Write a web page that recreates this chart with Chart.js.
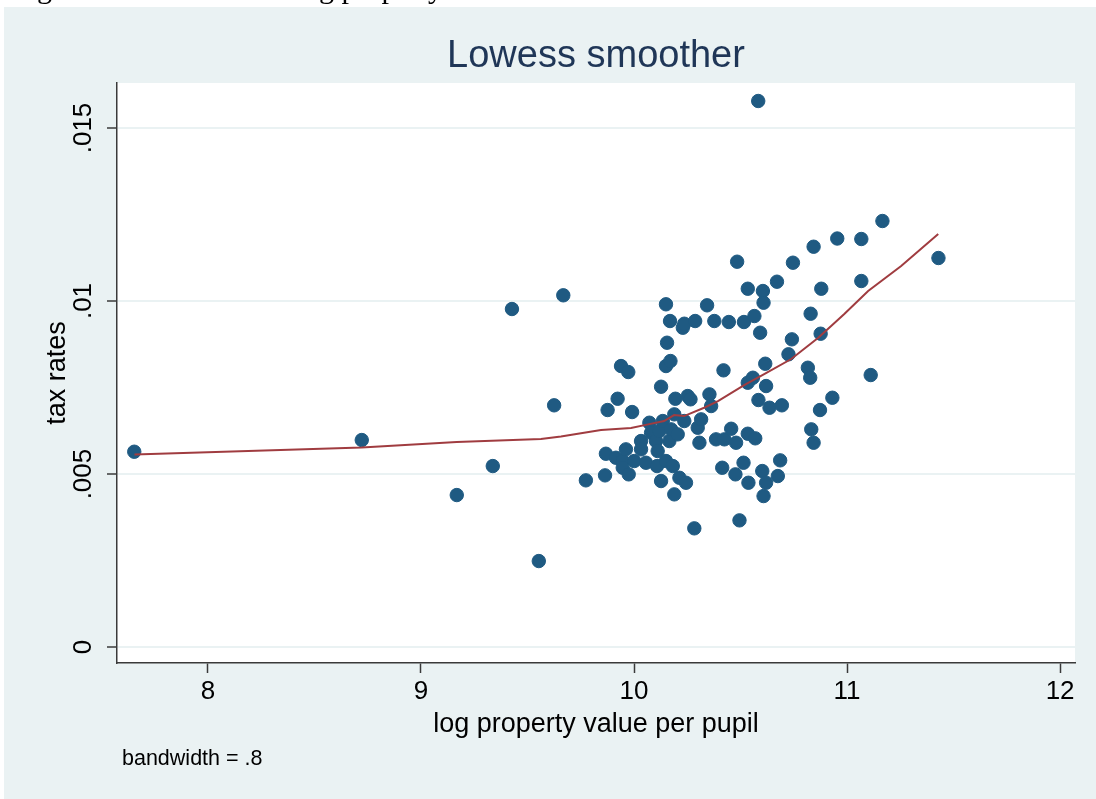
<!DOCTYPE html>
<html>
<head>
<meta charset="utf-8">
<title>Lowess smoother</title>
<script src="https://cdn.jsdelivr.net/npm/chart.js@4.4.1/dist/chart.umd.min.js"></script>
<style>
  html, body { margin: 0; padding: 0; background: #ffffff; }
  #wrap { width: 1096px; height: 799px; position: relative; }
  canvas { display: block; }
</style>
</head>
<body>
<div id="wrap"><canvas id="chart" width="1096" height="799"></canvas></div>
<script>
// School districts: log property value per pupil (x) and tax rate (y)
const logPropertyValue = [
  7.654, 8.722, 9.168, 9.337, 9.427, 9.553, 9.625, 9.668, 9.774, 9.864,
  9.868, 9.876, 9.915, 9.923, 9.939, 9.947, 9.947, 9.962, 9.973, 9.975,
  9.991, 10.001, 10.033, 10.033, 10.056, 10.072, 10.080, 10.103, 10.108, 10.111,
  10.119, 10.127, 10.127, 10.135, 10.150, 10.150, 10.150, 10.155, 10.166, 10.169,
  10.171, 10.174, 10.182, 10.189, 10.189, 10.194, 10.205, 10.213, 10.229, 10.236,
  10.236, 10.244, 10.252, 10.265, 10.283, 10.287, 10.299, 10.307, 10.315, 10.343,
  10.354, 10.362, 10.377, 10.385, 10.414, 10.420, 10.424, 10.445, 10.456, 10.476,
  10.479, 10.484, 10.495, 10.514, 10.516, 10.534, 10.534, 10.534, 10.537, 10.558,
  10.565, 10.569, 10.583, 10.584, 10.592, 10.602, 10.605, 10.608, 10.608, 10.616,
  10.620, 10.620, 10.636, 10.671, 10.675, 10.686, 10.694, 10.725, 10.741, 10.746,
  10.816, 10.827, 10.829, 10.832, 10.843, 10.843, 10.873, 10.876, 10.879, 10.931,
  10.954, 11.067, 11.067, 11.111, 11.166, 11.429
];
const taxRate = [
  0.005645, 0.005983, 0.004393, 0.005231, 0.009769, 0.002486, 0.006986, 0.010165, 0.004818, 0.004962,
  0.005587, 0.006850, 0.005471, 0.007176, 0.008121, 0.005376, 0.005182, 0.005714, 0.007948, 0.004991,
  0.006792, 0.005376, 0.005954, 0.005714, 0.005327, 0.006483, 0.006194, 0.005954, 0.005231, 0.005665,
  0.006243, 0.007523, 0.004798, 0.006532, 0.009905, 0.008121, 0.005376, 0.008795, 0.005954, 0.009422,
  0.008266, 0.006292, 0.005231, 0.006725, 0.004413, 0.007176, 0.006147, 0.004893, 0.009228, 0.009344,
  0.006532, 0.004749, 0.007254, 0.007159, 0.003431, 0.009422, 0.006338, 0.005905, 0.006581, 0.009876,
  0.007303, 0.006965, 0.009422, 0.006003, 0.005182, 0.007997, 0.006003, 0.009393, 0.006309, 0.004991,
  0.005905, 0.011136, 0.003662, 0.005327, 0.009393, 0.010355, 0.007639, 0.006165, 0.004749, 0.007783,
  0.009566, 0.006032, 0.015780, 0.007139, 0.009084, 0.005087, 0.010289, 0.009951, 0.004364, 0.008188,
  0.007543, 0.004749, 0.006916, 0.010558, 0.004942, 0.005396, 0.006986, 0.008460, 0.008893, 0.011107,
  0.008072, 0.007783, 0.009633, 0.006292, 0.011569, 0.005905, 0.006850, 0.009055, 0.010355, 0.007205,
  0.011806, 0.011792, 0.010578, 0.007861, 0.012312, 0.011243
];

// Lowess fit (bandwidth .8)
const lowessX = [7.655, 8.722, 9.168, 9.563, 9.657, 9.845, 9.986, 10.066, 10.141, 10.188,
                 10.235, 10.329, 10.394, 10.517, 10.611, 10.738, 10.865, 10.987, 11.099, 11.254, 11.428];
const lowessY = [0.005564, 0.005766, 0.005925, 0.006012, 0.006084, 0.006272, 0.006329, 0.006436, 0.006532, 0.006705,
                 0.006676, 0.006916, 0.007110, 0.007572, 0.007890, 0.008324, 0.008939, 0.009624, 0.010289, 0.011012, 0.011936];

// Axis ticks and labels
const xTickValues = [8, 9, 10, 11, 12];
const xTickLabels = ['8', '9', '10', '11', '12'];
const yTickValues = [0, 0.005, 0.01, 0.015];
const yTickLabels = ['0', '.005', '.01', '.015'];

const SANS = '"Liberation Sans", Arial, Helvetica, sans-serif';
const SERIF = '"Liberation Serif", "Times New Roman", serif';
const GRAPH_BG = '#EAF2F3';
const AXIS = '#3a3a3a';

const framePlugin = {
  id: 'frame',
  beforeDraw(chart) {
    const { ctx, width, height, chartArea: a } = chart;
    ctx.save();
    ctx.fillStyle = '#ffffff';
    ctx.fillRect(0, 0, width, height);
    // caption line of the surrounding document (mostly above the page edge)
    ctx.fillStyle = '#000000';
    ctx.font = '30px ' + SERIF;
    ctx.textBaseline = 'alphabetic';
    ctx.textAlign = 'left';
    ctx.fillText('Figure 3: Tax rates and log property value', 12, -1.8);
    // graph region
    ctx.fillStyle = GRAPH_BG;
    ctx.fillRect(4, 7, width - 4, height - 7);
    // plot region
    ctx.fillStyle = '#ffffff';
    ctx.fillRect(a.left, a.top, a.right - a.left, a.bottom - a.top);
    ctx.restore();
  },
  afterDraw(chart) {
    const { ctx, chartArea: a } = chart;
    ctx.save();
    // title, centred over the plot region
    ctx.fillStyle = '#1F3657';
    ctx.font = '38px ' + SANS;
    ctx.textBaseline = 'middle';
    ctx.textAlign = 'center';
    ctx.fillText('Lowess smoother', (a.left + a.right) / 2, 57);
    // smoother note
    ctx.fillStyle = '#000000';
    ctx.font = '21.5px ' + SANS;
    ctx.textAlign = 'left';
    ctx.fillText('bandwidth = .8', 122, 759);
    ctx.restore();
  }
};

new Chart(document.getElementById('chart'), {
  type: 'scatter',
  data: {
    datasets: [
      {
        label: 'lowess',
        data: lowessX.map((x, i) => ({ x: x, y: lowessY[i] })),
        showLine: true,
        borderColor: '#A03C40',
        borderWidth: 2,
        pointRadius: 0,
        tension: 0,
        fill: false,
        order: 0
      },
      {
        label: 'tax rates',
        data: logPropertyValue.map((x, i) => ({ x: x, y: taxRate[i] })),
        backgroundColor: '#1F5A82',
        borderColor: '#1F5A82',
        borderWidth: 1,
        pointRadius: 6.7,
        order: 1
      }
    ]
  },
  options: {
    responsive: false,
    animation: false,
    events: [],
    layout: { padding: { left: 4, top: 83, right: 21, bottom: 0 } },
    plugins: {
      legend: { display: false },
      tooltip: { enabled: false },
      title: { display: false }
    },
    scales: {
      x: {
        type: 'linear',
        min: 7.573,
        max: 12.07,
        afterBuildTicks: (s) => { s.ticks = xTickValues.map(v => ({ value: v })); },
        afterFit: (s) => { s.height = 136; },
        ticks: {
          callback: (v, i) => xTickLabels[i],
          color: '#000000',
          font: { family: SANS, size: 26 },
          padding: 3.4,
          minRotation: 0,
          maxRotation: 0,
          autoSkip: false
        },
        grid: { drawOnChartArea: false, drawTicks: true, tickLength: 10, tickColor: AXIS, tickWidth: 1.5 },
        border: { display: true, color: AXIS, width: 1.5 },
        title: {
          display: true,
          text: 'log property value per pupil',
          color: '#000000',
          font: { family: SANS, size: 27 },
          padding: { top: 0, bottom: 57.8 }
        }
      },
      y: {
        type: 'linear',
        min: -0.00046,
        max: 0.0163,
        afterBuildTicks: (s) => { s.ticks = yTickValues.map(v => ({ value: v })); },
        afterFit: (s) => { s.width = 113; },
        ticks: {
          callback: (v, i) => yTickLabels[i],
          color: '#000000',
          font: { family: SANS, size: 26 },
          padding: -2,
          minRotation: 90,
          maxRotation: 90,
          crossAlign: 'center',
          autoSkip: false
        },
        grid: { color: GRAPH_BG, lineWidth: 2, drawTicks: true, tickLength: 10, tickColor: AXIS, tickWidth: 1.5 },
        border: { display: true, color: AXIS, width: 1.5 },
        title: {
          display: true,
          text: 'tax rates',
          color: '#000000',
          font: { family: SANS, size: 27 },
          padding: { top: 37.8, bottom: 0 }
        }
      }
    }
  },
  plugins: [framePlugin]
});
</script>
</body>
</html>
